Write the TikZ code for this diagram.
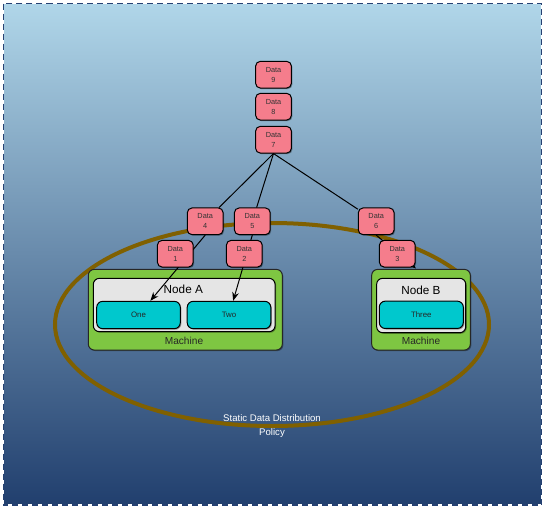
\documentclass[tikz,border=0pt]{standalone}
\usepackage{fontspec}
\setmainfont{Liberation Sans}
\usepackage{xcolor}
\usepackage{tikz}
\usetikzlibrary{arrows.meta,shadows}

\definecolor{bgtop}{RGB}{176,214,233}
\definecolor{bgbottom}{RGB}{33,63,110}
\definecolor{bgborder}{RGB}{38,66,115}
\definecolor{policybrown}{RGB}{128,96,0}
\definecolor{datapink}{RGB}{245,125,140}
\definecolor{machinegreen}{RGB}{126,198,66}
\definecolor{nodegray}{RGB}{229,229,229}
\definecolor{partcyan}{RGB}{0,200,205}

\tikzset{
  boxshadow/.style={drop shadow={shadow xshift=0.8pt,shadow yshift=-0.8pt,opacity=0.35,fill=black}},
  datanode/.style={draw=black,line width=0.75pt,fill=datapink,rounded corners=3.5pt,boxshadow,
    minimum width=26.8pt,minimum height=20pt,inner sep=0pt,align=center,
    font=\fontsize{5.5}{7.5}\selectfont,text=black!80},
  machine/.style={draw=black!85,line width=0.75pt,fill=machinegreen,rounded corners=4.5pt,boxshadow,
    minimum width=145.5pt,minimum height=60.5pt,inner sep=0pt},
  nodebox/.style={draw=black,line width=0.75pt,fill=nodegray,rounded corners=4.5pt,boxshadow,
    minimum width=136.3pt,minimum height=40pt,inner sep=0pt},
  partbox/.style={draw=black,line width=0.75pt,fill=partcyan,rounded corners=4.5pt,boxshadow,
    minimum width=62.7pt,minimum height=20.5pt,inner sep=0pt,
    font=\fontsize{5.9}{7}\selectfont,text=black!85},
  boxtitle/.style={inner sep=0pt,font=\fontsize{8.8}{10}\selectfont},
  machinetext/.style={inner sep=0pt,font=\fontsize{7.6}{9}\selectfont,text=black!85},
  policytext/.style={inner sep=0pt,align=center,text=white,font=\fontsize{7.2}{10}\selectfont},
  link/.style={draw=black,line width=0.75pt},
  feed/.style={link,-{Stealth[length=6.5pt,width=5pt]}}
}

\begin{document}
\begin{tikzpicture}[x=0.75pt,y=0.75pt,yscale=-1,xscale=1]
\useasboundingbox (0,0) rectangle (545,508);

% background and frame
\shade[top color=bgtop,bottom color=bgbottom] (3.5,3.5) rectangle (541.5,505);
\draw[white,line width=1.1pt] (3.5,3.5) rectangle (541.5,505);
\draw[bgborder,line width=1.1pt,dash pattern=on 4.5pt off 3pt] (3.5,3.5) rectangle (541.5,505);

% policy ring
\draw[policybrown,line width=3pt] (272,324.5) ellipse [x radius=217,y radius=101.5];
\node[policytext] (policylabel) at (272,426) {Static Data Distribution\\Policy};

% machines
\node[machine] (machinea) at (185.3,309.7) {};
\node[machine,minimum width=74pt] (machineb) at (421,309.7) {};
\node[nodebox] (nodea) at (184.2,305) {};
\node[nodebox,minimum width=66.8pt,minimum height=40.8pt] (nodeb) at (421.2,305.5) {};
\node[boxtitle] (nodealabel) at (183.3,289.3) {Node A};
\node[boxtitle] (nodeblabel) at (421,290) {Node B};
\node[partbox] (one) at (138.5,315) {One};
\node[partbox] (two) at (229,315) {Two};
\node[partbox,minimum width=63pt] (three) at (421.3,314.8) {Three};
\node[machinetext] (machinealabel) at (184,340.7) {Machine};
\node[machinetext] (machineblabel) at (421,341) {Machine};

% data blocks
\node[datanode] (data9) at (273.5,74.7) {Data\\9};
\node[datanode] (data8) at (273.5,106.7) {Data\\8};
\node[datanode] (data7) at (273.5,139.7) {Data\\7};
\node[datanode] (data4) at (205.2,221.3) {Data\\4};
\node[datanode] (data5) at (252.3,221.3) {Data\\5};
\node[datanode] (data6) at (376.2,221.3) {Data\\6};

\coordinate (tipb) at (416,268.5);

\draw[link] (data7.south) -- (data4);
\draw[link] (data7.south) -- (data5);
\draw[link] (data7.south) -- (data6);
\draw[feed] (data4.south) -- (one);
\draw[feed] (data5.south) -- (two);
\draw[feed] (data6.south) -- (tipb);

\node[datanode] (data1) at (175.3,253.7) {Data\\1};
\node[datanode] (data2) at (244.3,253.7) {Data\\2};
\node[datanode] (data3) at (397.3,253.7) {Data\\3};

\end{tikzpicture}
\end{document}
